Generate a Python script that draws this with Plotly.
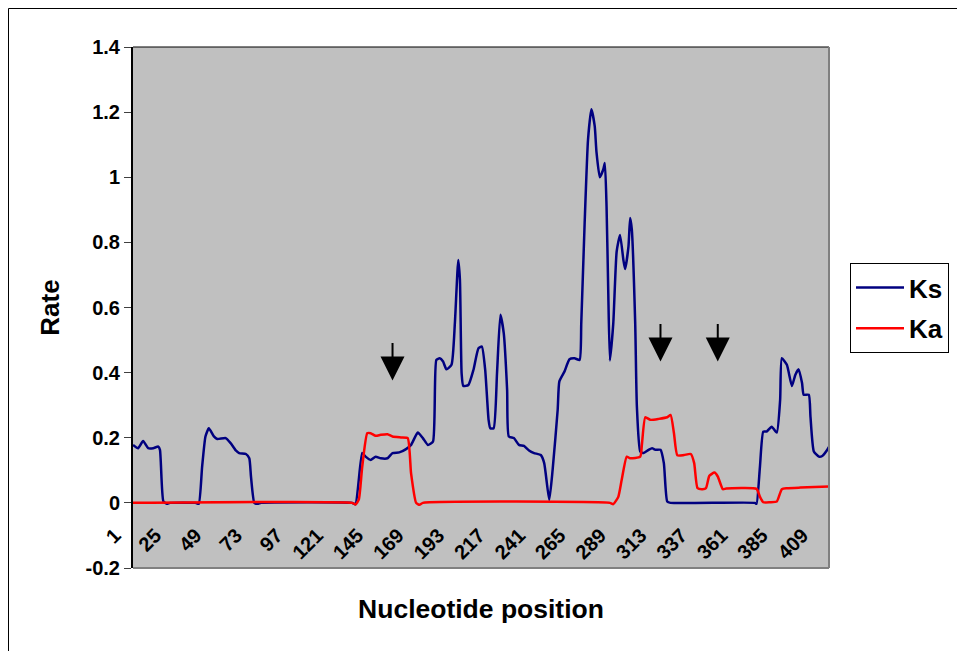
import plotly.graph_objects as go

# ---------------- data ----------------
ks_pos = [1, 4, 7, 10, 13, 16, 17, 19, 21, 23, 38, 40, 42, 44, 46, 49, 51, 56, 59, 62, 64, 68, 70, 71, 73, 75, 77,
          131, 133, 137, 139, 142, 145, 148, 152, 155, 159, 163, 166, 170, 173, 176, 179, 181, 183, 185, 187, 190,
          192, 194, 195, 196, 197, 200, 203, 206, 208, 210, 212, 213, 215, 217, 219, 221, 223, 224, 227, 230, 233,
          236, 239, 243, 245, 248, 250, 253, 254, 257, 260, 263, 266, 267, 269, 271, 273, 275, 276, 278, 280, 281,
          282, 283, 284, 286, 288, 290, 292, 293, 295, 296, 297, 299, 300, 302, 304, 307, 309, 311, 314, 316, 318,
          320, 370, 371, 373, 375, 377, 380, 383, 385, 386, 389, 392, 394, 396, 398, 399, 402, 403, 405, 408, 410,
          413, 414]
ks_val = [0.178, 0.168, 0.190, 0.168, 0.168, 0.173, 0.163, 0.005, -0.003, 0.0, 0.0, -0.003, 0.110, 0.204, 0.229,
          0.204, 0.196, 0.199, 0.183, 0.161, 0.153, 0.150, 0.137, 0.081, 0.0, -0.003, 0.0,
          0.0, -0.004, 0.153, 0.142, 0.132, 0.142, 0.137, 0.137, 0.153, 0.155, 0.165, 0.178, 0.216, 0.199, 0.178,
          0.188, 0.439, 0.444, 0.434, 0.410, 0.424,
          0.552, 0.746, 0.685, 0.398, 0.359, 0.362, 0.408, 0.475, 0.480, 0.408, 0.255, 0.229, 0.229, 0.398, 0.578,
          0.521, 0.347, 0.204, 0.199, 0.178, 0.175,
          0.161, 0.153, 0.147, 0.122, 0.009, 0.101, 0.286, 0.373, 0.403, 0.441, 0.444, 0.439, 0.552, 0.859, 1.115,
          1.209, 1.156, 1.079, 1.000, 1.023, 1.044,
          0.910, 0.654, 0.437, 0.552, 0.772, 0.823, 0.746, 0.718, 0.787, 0.875, 0.839, 0.552, 0.296, 0.158, 0.153,
          0.163, 0.168, 0.163, 0.163, 0.122, 0.004,
          0.0, 0.0, -0.003, 0.110, 0.219, 0.219, 0.234, 0.216, 0.316, 0.444, 0.424, 0.359, 0.393, 0.410, 0.368,
          0.332, 0.332, 0.265, 0.158, 0.142, 0.144,
          0.163, 0.172]

ka_pos = [1, 131, 133, 135, 137, 140, 142, 145, 148, 152, 155, 160, 164, 166, 169, 171, 173,
          284, 286, 289, 291, 294, 296, 302, 303, 305, 308, 313, 318, 320, 322, 324, 328, 332, 334, 336, 339, 341,
          343, 346, 348, 351, 353, 371, 373, 375, 379, 383, 386, 389, 397, 414]
ka_val = [0.0, 0.0, -0.005, 0.010, 0.110, 0.214, 0.214, 0.206, 0.209, 0.211, 0.204, 0.201, 0.199, 0.091, 0.0,
          -0.006, 0.0,
          0.0, -0.004, 0.019, 0.071, 0.142, 0.137, 0.142, 0.180, 0.263, 0.255, 0.258, 0.263, 0.270, 0.214, 0.146,
          0.147, 0.150, 0.122, 0.045, 0.042, 0.045,
          0.083, 0.093, 0.081, 0.042, 0.044, 0.043, 0.019, 0.002, 0.002, 0.004, 0.042, 0.045, 0.047, 0.050]

x_tick_vals = list(range(1, 410, 24))
x_tick_text = [str(v) for v in x_tick_vals]
y_tick_vals = [-0.2, 0, 0.2, 0.4, 0.6, 0.8, 1.0, 1.2, 1.4]
y_tick_text = ["-0.2", "0", "0.2", "0.4", "0.6", "0.8", "1", "1.2", "1.4"]

arrow_pos = [155, 314, 348]
arrow_tip = [0.376, 0.434, 0.434]

# ---------------- figure ----------------
FONT = "Liberation Sans, Arial, sans-serif"
OFF = 8  # page body margin
W, H = 965 - OFF, 651 - OFF
# plot area in screen pixels: x 133..829, y 47..568
SX0, SX1, SY0, SY1 = 133, 829, 47, 568
L, T = SX0 - OFF, SY0 - OFF
R, B = W - (SX1 - OFF), H - (SY1 - OFF)
pw, ph = SX1 - SX0, SY1 - SY0


def px_x(p):
    return (p - SX0) / pw


def px_y(p):
    return (SY1 - p) / ph


fig = go.Figure()
fig.add_trace(go.Scatter(x=ks_pos, y=ks_val, mode="lines", name="Ks", legendgroup="ks",
                         line=dict(color="#000080", width=2.5, shape="spline", smoothing=0.5)))
fig.add_trace(go.Scatter(x=ka_pos, y=ka_val, mode="lines", name="Ka", legendgroup="ka",
                         line=dict(color="#FF0000", width=2.5, shape="spline", smoothing=0.5)))

for xp, yt in zip(arrow_pos, arrow_tip):
    fig.add_annotation(x=xp, y=yt, xref="x", yref="y", text="", showarrow=True,
                       ax=0, ay=-39, arrowhead=2, arrowsize=2.4, arrowwidth=2, arrowcolor="black")

shapes = [
    # outer chart frame (top/left edges of the figure area)
    dict(type="rect", xref="paper", yref="paper", x0=px_x(OFF + 0.5), x1=px_x(990), y0=px_y(680),
         y1=px_y(OFF + 0.5),
         line=dict(color="black", width=1), fillcolor="rgba(0,0,0,0)", layer="below"),
    # plot-area border: top black, right & bottom grey
    dict(type="line", xref="paper", yref="paper", x0=0, x1=1, y0=1, y1=1, line=dict(color="black", width=1)),
    dict(type="line", xref="paper", yref="paper", x0=1, x1=1, y0=0, y1=1, line=dict(color="#808080", width=2)),
    dict(type="line", xref="paper", yref="paper", x0=0, x1=1, y0=0, y1=0, line=dict(color="#808080", width=2)),
]

fig.update_layout(
    width=W, height=H, autosize=False,
    margin=dict(l=L, r=R, t=T, b=B, pad=0),
    paper_bgcolor="white", plot_bgcolor="#C0C0C0",
    font=dict(family=FONT, color="black", size=18),
    shapes=shapes,
    showlegend=True,
    legend=dict(x=px_x(850), y=px_y(263), xanchor="left", yanchor="top",
                bgcolor="white", bordercolor="black", borderwidth=1,
                font=dict(family=FONT, size=26, color="black", weight="bold"),
                tracegroupgap=4, itemwidth=48),
    xaxis=dict(type="linear", range=[1, 414], tickmode="array", tickvals=x_tick_vals, ticktext=x_tick_text,
               tickangle=-45, showgrid=False, zeroline=False, showline=False, ticks="",
               anchor="free", position=0.125, automargin=False,
               ticklabelshift=-18, ticklabelstandoff=16,
               tickfont=dict(family=FONT, size=20, color="black", weight="bold"),
               title=dict(text="Nucleotide position", standoff=37,
                          font=dict(family=FONT, size=26.5, color="black", weight="bold"))),
    yaxis=dict(range=[-0.2, 1.4], tickmode="array", tickvals=y_tick_vals, ticktext=y_tick_text,
               showgrid=False, zeroline=False, showline=True, linecolor="black", linewidth=2,
               ticks="outside", ticklen=7, tickwidth=1, tickcolor="#404040", automargin=False,
               tickfont=dict(family=FONT, size=20, color="black", weight="bold"),
               title=dict(text="Rate", standoff=18,
                          font=dict(family=FONT, size=26, color="black", weight="bold"))),
)

fig.write_html("out.html")
